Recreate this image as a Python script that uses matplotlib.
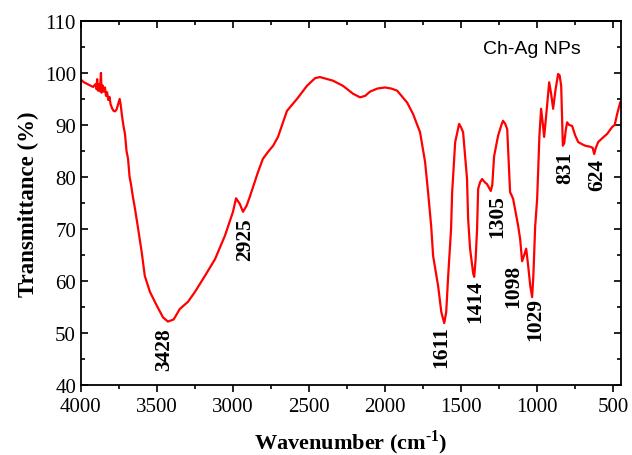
import matplotlib
matplotlib.use('Agg')
import matplotlib.pyplot as plt
from matplotlib.ticker import MultipleLocator

plt.rcParams['font.family'] = ['Liberation Serif', 'DejaVu Serif']
plt.rcParams['mathtext.fontset'] = 'custom'
plt.rcParams['mathtext.bf'] = 'Liberation Serif:bold'
plt.rcParams['mathtext.rm'] = 'Liberation Serif'

# FTIR spectrum of Ch-Ag NPs
wavenumber = [4000, 3980, 3960, 3940, 3920, 3905, 3898, 3893, 3888, 3882, 3877, 3872, 3868, 3864,
              3858, 3850, 3842, 3835, 3828, 3820, 3812, 3805, 3795, 3785, 3775, 3765, 3755, 3745,
              3738, 3730, 3720, 3710, 3700, 3690, 3680, 3670, 3660, 3645, 3625, 3600, 3580, 3546,
              3500, 3460, 3428, 3390, 3350, 3296, 3250, 3184, 3118, 3053, 3000, 2980, 2955, 2934,
              2910, 2888, 2836, 2803, 2770, 2736, 2704, 2645, 2579, 2514, 2460, 2428, 2342, 2276,
              2211, 2164, 2130, 2099, 2050, 2000, 1960, 1921, 1855, 1816, 1770, 1737, 1717, 1697,
              1684, 1651, 1630, 1611, 1598, 1585, 1566, 1559, 1539, 1513, 1500, 1487, 1461, 1454,
              1441, 1421, 1414, 1405, 1395, 1388, 1375, 1362, 1345, 1329, 1305, 1295, 1283, 1257,
              1235, 1224, 1210, 1197, 1178, 1158, 1140, 1125, 1112, 1099, 1085, 1072, 1059, 1045,
              1033, 1025, 1013, 1000, 985, 974, 962, 954, 940, 921, 908, 895, 878, 862, 852, 842,
              831, 822, 812, 803, 790, 770, 750, 730, 705, 684, 651, 635, 625, 615, 599, 570, 539,
              507, 490, 474, 454]
transmittance = [98.7, 98.2, 97.9, 97.6, 97.3, 97.8, 96.9, 98.8, 96.6, 97.8, 96.5, 98.0, 100.0, 96.2,
                 97.6, 96.4, 97.2, 95.6, 96.3, 94.8, 95.4, 94.0, 93.2, 92.7, 92.6, 93.0, 94.0, 95.0,
                 93.8, 91.8, 89.8, 88.2, 85.0, 83.5, 80.0, 78.5, 76.5, 74.0, 70.3, 65.5, 61.0, 57.9,
                 55.2, 53.0, 52.2, 52.6, 54.6, 56.0, 57.9, 61.0, 64.2, 68.7, 73.3, 75.9, 74.8, 73.3,
                 74.5, 76.3, 80.9, 83.5, 84.8, 86.0, 87.7, 92.7, 95.0, 97.5, 99.0, 99.2, 98.5, 97.5,
                 96.0, 95.3, 95.6, 96.4, 97.0, 97.2, 97.0, 96.6, 94.3, 92.1, 88.6, 82.9, 77.0, 70.6,
                 64.8, 59.0, 54.0, 51.9, 54.0, 61.0, 70.0, 77.0, 86.7, 90.2, 89.5, 88.6, 79.6, 72.0,
                 66.2, 61.5, 60.8, 64.0, 70.0, 77.7, 79.0, 79.6, 79.0, 78.6, 77.3, 78.5, 84.0, 87.9,
                 90.0, 90.8, 90.2, 89.2, 77.1, 75.8, 73.0, 70.6, 68.1, 63.8, 65.0, 66.2, 62.9, 59.0,
                 56.9, 61.0, 70.5, 75.8, 88.0, 93.1, 90.0, 87.7, 92.0, 98.2, 96.0, 93.1, 97.0, 99.8,
                 99.5, 97.5, 86.0, 86.5, 89.0, 90.5, 90.0, 89.8, 88.0, 86.7, 86.3, 86.0, 85.8, 85.6,
                 84.4, 85.5, 86.7, 87.5, 88.3, 89.6, 90.0, 92.1, 94.3]

peak_labels = ['3428', '2925', '1611', '1414', '1305', '1098', '1029', '831', '624']
peak_label_x = [3455, 2921, 1632, 1408, 1263, 1158, 1013, 816, 605]
peak_label_y = [46.9, 68.1, 47.5, 56.3, 72.5, 59.2, 52.7, 81.9, 80.6]

fig = plt.figure(figsize=(6.32, 4.56), dpi=100)
ax = fig.add_axes([0.128, 0.1535, 0.855, 0.7985])

ax.plot(wavenumber, transmittance, color='#ff0000', linewidth=1.6)

for lab, px, py in zip(peak_labels, peak_label_x, peak_label_y):
    ax.text(px, py, lab, rotation=90, ha='center', va='center',
            fontsize=15.5, fontweight='bold')

ax.text(1033, 104.6, 'Ch-Ag NPs', ha='center', va='center', fontsize=14,
        family=['Liberation Sans', 'DejaVu Sans'])

ax.set_xlim(4000, 447)
ax.set_ylim(40, 110)
ax.xaxis.set_major_locator(MultipleLocator(500))
ax.xaxis.set_minor_locator(MultipleLocator(250))
ax.yaxis.set_major_locator(MultipleLocator(10))
ax.yaxis.set_minor_locator(MultipleLocator(5))

ax.tick_params(axis='x', which='both', direction='out', top=False, labelsize=15, width=1.2)
ax.tick_params(axis='y', which='both', direction='in', right=True, labelsize=15, width=1.2)
ax.tick_params(which='major', length=5)
ax.tick_params(which='minor', length=3)
# top ticks pointing inward
sec = ax.secondary_xaxis('top')
sec.xaxis.set_major_locator(MultipleLocator(500))
sec.xaxis.set_minor_locator(MultipleLocator(250))
sec.tick_params(which='both', direction='in', labeltop=False, width=1.2)
sec.tick_params(which='major', length=5)
sec.tick_params(which='minor', length=3)
sec.spines['top'].set_linewidth(1.3)

for s in ax.spines.values():
    s.set_linewidth(1.3)

ax.set_xlabel('Wavenumber (cm$^{\\mathbf{\u2010}\\mathbf{1}}$)', fontsize=16, fontweight='bold', labelpad=8)
ax.set_ylabel('Transmittance (%)', fontsize=16.5, fontweight='bold', labelpad=4)

fig.savefig('out.png', dpi=100)
